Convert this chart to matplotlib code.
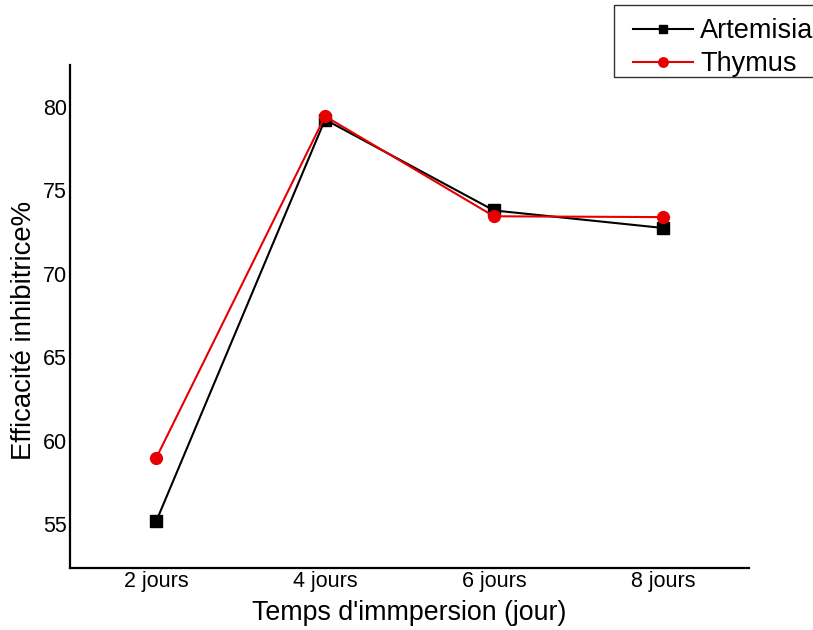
import matplotlib
matplotlib.use("Agg")
import matplotlib.pyplot as plt
from matplotlib.patches import Rectangle

# Inhibition efficiency (%) versus immersion time
categories = ["2 jours", "4 jours", "6 jours", "8 jours"]
artemisia = [55.15, 79.25, 73.8, 72.75]
thymus = [58.95, 79.45, 73.45, 73.4]

plt.rcParams["font.family"] = ["Liberation Sans", "DejaVu Sans"]

W, H = 813, 630
fig = plt.figure(figsize=(W / 100, H / 100), dpi=100)
ax = fig.add_axes([0.0861, 0.0984, 0.9213 - 0.0861, 0.8968 - 0.0984])

x = list(range(len(categories)))
l1, = ax.plot(x, artemisia, color="black", lw=1.5, marker="s", markersize=8,
              label="Artemisia")
l2, = ax.plot(x, thymus, color="#e60000", lw=1.5, marker="o", markersize=8.5,
              label="Thymus")

ax.set_xlim(-0.51, 3.51)
ax.set_ylim(52.36, 82.52)
ax.set_yticks([55, 60, 65, 70, 75, 80])
ax.set_xticks(x)
ax.set_xticklabels(categories)
ax.tick_params(length=0, labelsize=15.5, pad=2)

for side in ("top", "right"):
    ax.spines[side].set_visible(False)
for side in ("left", "bottom"):
    ax.spines[side].set_linewidth(1.6)

ax.set_xlabel("Temps d'immpersion (jour)", fontsize=19.3, labelpad=6)
ax.set_ylabel("Efficacité inhibitrice%", fontsize=19.8)
ax.yaxis.set_label_coords(-0.048, 0.473)

# legend box running off the right edge of the figure
fig.patches.append(Rectangle((614 / W, 1 - 77 / H), 0.3, 72 / H,
                             transform=fig.transFigure, facecolor="white",
                             edgecolor="#333333", linewidth=1.0))
fig.legend(handles=[l1, l2], loc="upper left",
           bbox_to_anchor=(633 / W, 1 - 18 / H),
           fontsize=19.5, frameon=False,
           handlelength=2.2, handletextpad=0.28, borderpad=0,
           labelspacing=0.26, markerscale=0.8, borderaxespad=0)

fig.savefig("out.png", dpi=100)
